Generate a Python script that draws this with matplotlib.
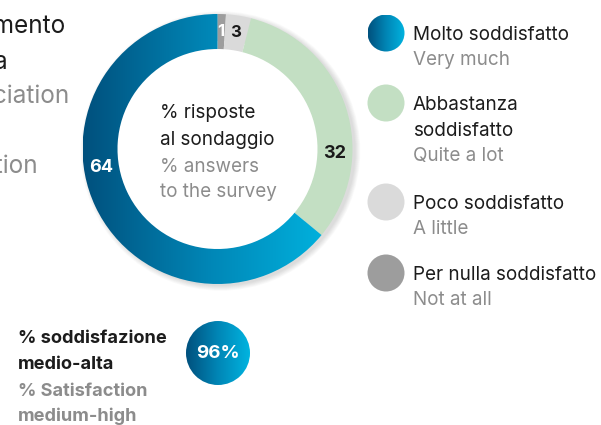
import numpy as np
import matplotlib
matplotlib.use("Agg")
import matplotlib.pyplot as plt
from matplotlib.patches import Wedge, Circle
from matplotlib.colors import LinearSegmentedColormap

plt.rcParams['font.family'] = ['Inter', 'DejaVu Sans']

# survey answers, percent
labels_it = ['Per nulla soddisfatto', 'Poco soddisfatto', 'Abbastanza\nsoddisfatto', 'Molto soddisfatto']
labels_en = ['Not at all', 'A little', 'Quite a lot', 'Very much']
values = [1, 3, 32, 64]
colors = ['#9d9d9d', '#dadada', '#c3dfc3', None]   # None -> blue gradient
value_color = ['white', '#1a1a1a', '#1a1a1a', 'white']
satisfaction = 96

BLACK = '#1c1c1c'
GREY = '#8c8c8c'
FS = 13.6
blue_cmap = LinearSegmentedColormap.from_list('blu', ['#00507d', '#0086b6', '#00b4e0'])

W, H = 601, 425
fig = plt.figure(figsize=(W / 100, H / 100), dpi=100)
ax = fig.add_axes([0, 0, 1, 1])
ax.set_xlim(0, W)
ax.set_ylim(H, 0)
ax.axis('off')


def gradient_fill(patch, x0, x1, y0, y1, cmap=blue_cmap):
    ax.add_patch(patch)
    grad = np.linspace(0, 1, 256).reshape(1, -1)
    im = ax.imshow(grad, extent=[x0, x1, y1, y0], cmap=cmap, aspect='auto',
                   interpolation='bicubic', zorder=patch.get_zorder())
    im.set_clip_path(patch)


# ---- donut ----
cx, cy, r_out, r_in = 217.5, 149, 135, 100

# soft shadow on the right
for k in range(7):
    ax.add_patch(Wedge((cx + 3, cy + 2), r_out + k * 0.8, 0, 360, width=25 + k * 0.8,
                       fc='#000000', ec='none', alpha=0.018, zorder=1))

cum = np.concatenate([[0], np.cumsum(values)])
total = cum[-1]
label_cw = [None, None, 92, 261]   # label angle clockwise from the top, None = middle
for i, v in enumerate(values):
    t1 = 360 * cum[i] / total - 90
    t2 = 360 * cum[i + 1] / total - 90
    if colors[i] is None:
        w = Wedge((cx, cy), r_out, t1, t2, width=r_out - r_in, fc='none', ec='none', zorder=2)
        gradient_fill(w, cx - r_out, cx + r_out * 0.85, cy - r_out, cy + r_out)
    else:
        ax.add_patch(Wedge((cx, cy), r_out, t1, t2, width=r_out - r_in,
                           fc=colors[i], ec='none', zorder=2))
    ang = (t1 + t2) / 2 if label_cw[i] is None else label_cw[i] - 90
    rl = (r_out + r_in) / 2
    ax.text(cx + rl * np.cos(np.radians(ang)), cy + rl * np.sin(np.radians(ang)), str(v),
            color=value_color[i], fontsize=13 if v > 9 else 12, fontweight='bold',
            ha='center', va='center', zorder=5)

# centre caption
ax.text(160, 118, '% risposte', color=BLACK, fontsize=FS, va='baseline')
ax.text(160, 145, 'al sondaggio', color=BLACK, fontsize=FS, va='baseline')
ax.text(160, 172, '% answers', color=GREY, fontsize=FS, va='baseline')
ax.text(160, 197, 'to the survey', color=GREY, fontsize=FS, va='baseline')

# ---- legend ----
leg_y = [33, 103, 202, 273]
order = [3, 2, 1, 0]
for y, i in zip(leg_y, order):
    if colors[i] is None:
        c = Circle((386, y), 18.5, fc='none', ec='none', zorder=2)
        gradient_fill(c, 367.5, 404.5, y - 18.5, y + 18.5)
    else:
        ax.add_patch(Circle((386, y), 18.5, fc=colors[i], ec='none', zorder=2))
    lines = labels_it[i].split('\n')
    base = y + 6.5
    for ln in lines:
        ax.text(413, base, ln, color=BLACK, fontsize=FS, va='baseline')
        base += 26.5
    ax.text(413, base - 1, labels_en[i], color=GREY, fontsize=FS, va='baseline')

# ---- title, cut by the left border ----
ax.text(66, 33, 'Gradimento', color=BLACK, fontsize=17.5, ha='right', va='baseline')
ax.text(8, 69, 'della', color=BLACK, fontsize=17.5, ha='right', va='baseline')
ax.text(70, 103, 'Appreciation', color=GREY, fontsize=17.5, ha='right', va='baseline')
ax.text(38, 173, 'satisfaction', color=GREY, fontsize=17.5, ha='right', va='baseline')

# ---- overall satisfaction ----
ax.text(18, 343, '% soddisfazione', color=BLACK, fontsize=13.1, fontweight='bold', va='baseline')
ax.text(18, 369, 'medio-alta', color=BLACK, fontsize=13.1, fontweight='bold', va='baseline')
ax.text(18, 396, '% Satisfaction', color=GREY, fontsize=13.1, fontweight='bold', va='baseline')
ax.text(18, 421, 'medium-high', color=GREY, fontsize=13.1, fontweight='bold', va='baseline')

bc = Circle((218, 353), 32, fc='none', ec='none', zorder=2)
gradient_fill(bc, 186, 250, 321, 385)
ax.text(218, 354, f'{satisfaction}%', color='white', fontsize=13.5, fontweight='bold',
        ha='center', va='center', zorder=5)

ax.set_xlim(0, W)
ax.set_ylim(H, 0)
fig.savefig('out.png', dpi=100)
